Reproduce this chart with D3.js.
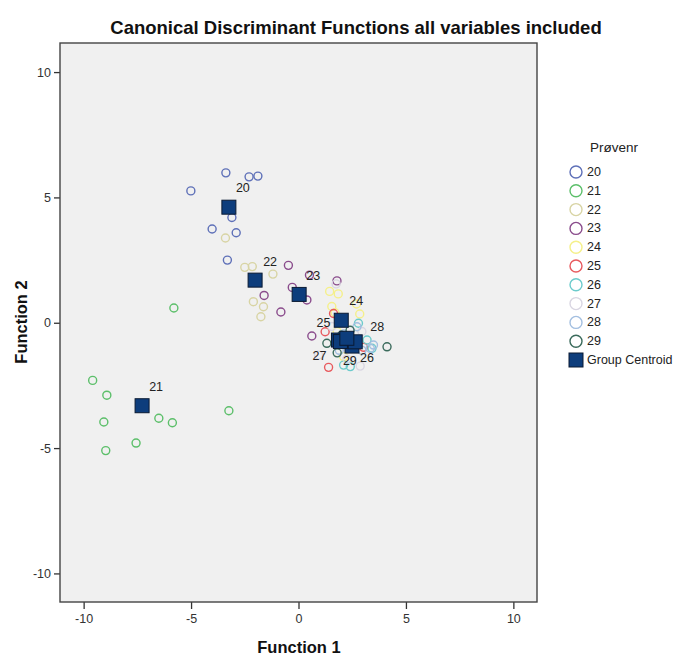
<!DOCTYPE html>
<html>
<head>
<meta charset="utf-8">
<script src="https://cdn.jsdelivr.net/npm/d3@7"></script>
<style>
  html, body { margin: 0; padding: 0; background: #ffffff; }
  svg { display: block; font-family: "Liberation Sans", Arial, sans-serif; }
</style>
</head>
<body>
<svg id="chart" width="677" height="657"></svg>
<script>
// ---------------- data ----------------
const title = "Canonical Discriminant Functions all variables included";
const xLabel = "Function 1";
const yLabel = "Function 2";
const legendTitle = "Prøvenr";
const groups = ["20", "21", "22", "23", "24", "25", "26", "27", "28", "29"];
const centroidLabel = "Group Centroid";
const xTicks = [-10, -5, 0, 5, 10];
const yTicks = [-10, -5, 0, 5, 10];

const g20 = [[-3.38, 5.98], [-2.30, 5.82], [-1.89, 5.85], [-5.01, 5.26], [-3.10, 4.20], [-4.02, 3.74], [-2.90, 3.59], [-3.31, 2.50]];
const g21 = [[-5.80, 0.59], [-9.58, -2.30], [-8.92, -2.89], [-9.06, -3.96], [-8.97, -5.10], [-7.56, -4.80], [-6.50, -3.81], [-5.87, -3.99], [-3.24, -3.51]];
const g22 = [[-3.40, 3.38], [-2.50, 2.21], [-2.15, 2.24], [-1.19, 1.94], [-2.10, 0.84], [-1.63, 0.64], [-1.75, 0.24]];
const g23 = [[-0.47, 2.29], [-0.29, 1.41], [-1.60, 1.09], [0.39, 0.91], [-0.82, 0.43], [1.79, 1.67], [0.62, -0.53], [0.51, 1.90]];
const g24 = [[1.45, 1.25], [1.85, 1.15], [1.55, 0.65], [1.70, 0.40], [2.85, 0.35], [2.70, 0.75], [2.10, -1.35], [1.80, -0.35], [2.30, -0.90]];
const g25 = [[1.63, 0.37], [1.24, -0.36], [1.40, -1.78], [3.03, -0.98]];
const g26 = [[2.79, -0.02], [3.42, -1.02], [2.41, -1.75], [2.10, -1.69], [3.19, -0.69]];
const g27 = [[0.93, -1.29], [2.87, -1.73], [1.75, 1.55], [2.25, -1.45], [2.95, -0.35], [1.55, -0.15]];
const g28 = [[3.34, -1.02], [3.49, -0.89], [2.72, -0.16], [2.95, -1.10], [2.10, -0.45], [1.90, -1.10]];
const g29 = [[4.12, -0.96], [1.32, -0.82], [2.00, -0.50], [1.80, -1.20], [2.40, -0.30]];
const pointSets = [g20, g21, g22, g23, g24, g25, g26, g27, g28, g29];

const centroidX = [-3.24, -7.28, -2.02, 0.03, 1.99, 1.86, 2.49, 1.95, 2.64, 2.25];
const centroidY = [4.61, -3.31, 1.70, 1.13, 0.10, -0.69, -0.93, -0.75, -0.76, -0.62];

// ---------------- styles / layout ----------------
const colors = ["#5e70b8", "#5cbf6a", "#d8d4a4", "#8a4c8c", "#f5f08a", "#e85a5e", "#6ccbcc", "#d9d6e2", "#a3bfe0", "#3b6b5c"];
// pixel offsets of each centroid label from its square
const labelOffsets = [[14, -19], [14, -19], [15, -18], [14, -18], [15, -19], [-15, -17], [15, 12], [-21, 14], [22, -15], [3, 23]];

const plot = { left: 60, right: 537, top: 43, bottom: 602 };

const svg = d3.select("#chart");

const x = d3.scaleLinear().domain([-11.1, 11.1]).range([plot.left, plot.right]);
const y = d3.scaleLinear().domain([-11.14, 11.16]).range([plot.bottom, plot.top]);

// plot background
svg.append("rect")
  .attr("x", plot.left).attr("y", plot.top)
  .attr("width", plot.right - plot.left).attr("height", plot.bottom - plot.top)
  .attr("fill", "#f0f0f0");

// axes
const xAxis = svg.append("g")
  .attr("transform", `translate(0,${plot.bottom})`)
  .call(d3.axisBottom(x).tickValues(xTicks).tickSize(7).tickPadding(5).tickFormat(d3.format("d")));
const yAxis = svg.append("g")
  .attr("transform", `translate(${plot.left},0)`)
  .call(d3.axisLeft(y).tickValues(yTicks).tickSize(6).tickPadding(3).tickFormat(d3.format("d")));
[xAxis, yAxis].forEach(a => {
  a.select(".domain").remove();
  a.selectAll(".tick line").attr("stroke", "#333").attr("stroke-width", 1.3);
  a.selectAll(".tick text").attr("fill", "#333").attr("font-size", 12.5)
    .attr("font-family", "'Liberation Sans', Arial, sans-serif");
});
// hyphen-minus like the reference
svg.selectAll(".tick text").text(d => String(d));

// frame
svg.append("rect")
  .attr("x", plot.left).attr("y", plot.top)
  .attr("width", plot.right - plot.left).attr("height", plot.bottom - plot.top)
  .attr("fill", "none").attr("stroke", "#444").attr("stroke-width", 1.4);

// points
const pts = svg.append("g");
pointSets.forEach((set, i) => {
  pts.selectAll(null).data(set).enter().append("circle")
    .attr("cx", d => x(d[0])).attr("cy", d => y(d[1]))
    .attr("r", 4)
    .attr("fill", "none")
    .attr("stroke", colors[i])
    .attr("stroke-width", 1.4);
});

// centroids
const cg = svg.append("g");
const sq = 14;
groups.forEach((g, i) => {
  cg.append("rect")
    .attr("x", x(centroidX[i]) - sq / 2).attr("y", y(centroidY[i]) - sq / 2)
    .attr("width", sq).attr("height", sq)
    .attr("fill", "#0d3d7c").attr("stroke", "#0a1a33").attr("stroke-width", 1);
});
groups.forEach((g, i) => {
  cg.append("text")
    .attr("x", x(centroidX[i]) + labelOffsets[i][0])
    .attr("y", y(centroidY[i]) + labelOffsets[i][1])
    .attr("text-anchor", "middle").attr("dominant-baseline", "central")
    .attr("font-size", 12.5).attr("fill", "#222")
    .text(g);
});

// title
svg.append("text")
  .attr("x", 356).attr("y", 27)
  .attr("text-anchor", "middle").attr("dominant-baseline", "central")
  .attr("font-size", 18.5).attr("font-weight", "bold").attr("fill", "#111")
  .text(title);

// axis titles
svg.append("text")
  .attr("x", 299).attr("y", 647)
  .attr("text-anchor", "middle").attr("dominant-baseline", "central")
  .attr("font-size", 16.5).attr("font-weight", "bold").attr("fill", "#111")
  .text(xLabel);
svg.append("text")
  .attr("transform", `translate(21,322) rotate(-90)`)
  .attr("text-anchor", "middle").attr("dominant-baseline", "central")
  .attr("font-size", 16.5).attr("font-weight", "bold").attr("fill", "#111")
  .text(yLabel);

// legend
const lg = svg.append("g");
lg.append("text")
  .attr("x", 614).attr("y", 147)
  .attr("text-anchor", "middle").attr("dominant-baseline", "central")
  .attr("font-size", 13.5).attr("fill", "#222")
  .text(legendTitle);
const legY0 = 172, legStep = 18.8;
groups.forEach((g, i) => {
  const yy = legY0 + i * legStep;
  lg.append("circle").attr("cx", 576).attr("cy", yy).attr("r", 6)
    .attr("fill", "none").attr("stroke", colors[i]).attr("stroke-width", 1.4);
  lg.append("text").attr("x", 587).attr("y", yy)
    .attr("dominant-baseline", "central").attr("font-size", 12.5).attr("fill", "#222")
    .text(g);
});
const cy = legY0 + groups.length * legStep;
lg.append("rect").attr("x", 569).attr("y", cy - 7).attr("width", 14).attr("height", 14)
  .attr("fill", "#0d3d7c").attr("stroke", "#0a1a33").attr("stroke-width", 1);
lg.append("text").attr("x", 587).attr("y", cy)
  .attr("dominant-baseline", "central").attr("font-size", 12.5).attr("fill", "#222")
  .text(centroidLabel);
</script>
</body>
</html>
